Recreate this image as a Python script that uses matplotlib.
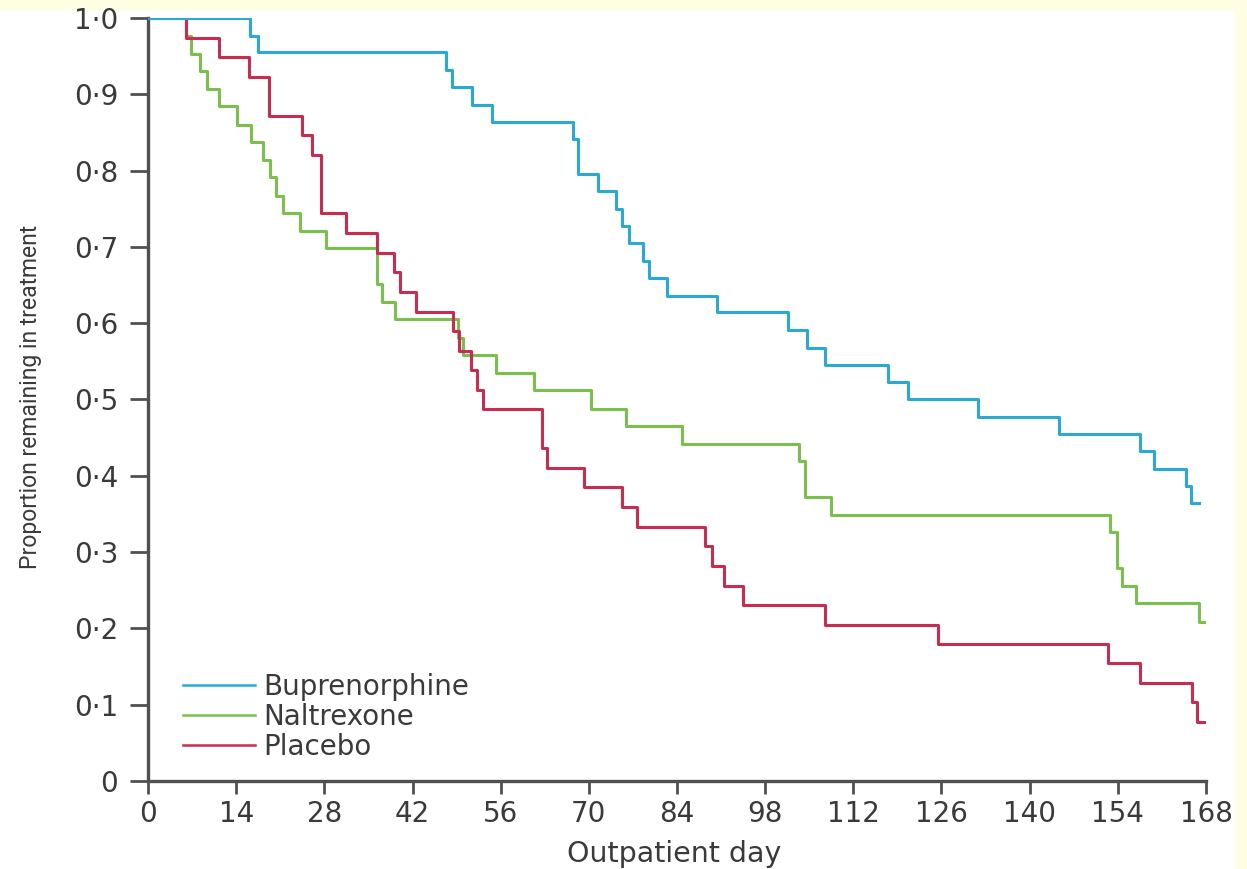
import matplotlib
matplotlib.use('Agg')
import matplotlib.pyplot as plt
from matplotlib.patches import Rectangle


### Dados

x_ticks = [0, 14, 28, 42, 56, 70, 84, 98, 112, 126, 140, 154, 168]
y_ticks = [0, 0.1, 0.2, 0.3, 0.4, 0.5, 0.6, 0.7, 0.8, 0.9, 1.0]
y_tick_labels = ['0', '0·1', '0·2', '0·3', '0·4', '0·5', '0·6', '0·7', '0·8', '0·9', '1·0']

bup_days = [0, 16.2, 17.5, 47.3, 48.3, 51.4, 54.6, 67.5, 68.3, 71.5,
            74.3, 75.2, 76.4, 78.6, 79.6, 82.4, 90.4, 101.7, 104.6, 107.5,
            117.5, 120.7, 131.8, 144.7, 157.6, 159.7, 164.8, 165.7, 166.9]
bup_vals = [1.0, 0.977, 0.955, 0.932, 0.909, 0.886, 0.864, 0.841, 0.795, 0.773,
            0.750, 0.727, 0.705, 0.682, 0.659, 0.636, 0.614, 0.591, 0.568, 0.545,
            0.523, 0.500, 0.477, 0.455, 0.432, 0.409, 0.386, 0.364, 0.364]

nal_days = [0, 6.1, 6.9, 8.3, 9.3, 11.3, 14.1, 16.3, 18.3, 19.3,
            20.3, 21.4, 24.1, 28.3, 36.3, 37.2, 39.2, 49.3, 50.0, 55.3,
            61.3, 70.4, 75.9, 84.8, 103.4, 104.3, 108.4, 152.8, 153.8, 154.7,
            156.9, 166.9, 167.7]
nal_vals = [1.0, 0.977, 0.953, 0.930, 0.907, 0.884, 0.860, 0.837, 0.814, 0.791,
            0.767, 0.744, 0.721, 0.698, 0.651, 0.628, 0.605, 0.581, 0.558, 0.535,
            0.512, 0.488, 0.465, 0.442, 0.419, 0.372, 0.349, 0.326, 0.279, 0.256,
            0.233, 0.209, 0.209]

pla_days = [0, 6.1, 11.3, 16.1, 19.2, 24.5, 26.1, 27.5, 31.5, 36.4,
            39.0, 40.0, 42.5, 48.5, 49.4, 51.3, 52.3, 53.2, 62.6, 63.3,
            69.3, 75.2, 77.6, 88.4, 89.5, 91.5, 94.5, 107.5, 125.5, 152.5,
            157.5, 165.8, 166.6, 168.0]
pla_vals = [1.0, 0.974, 0.949, 0.923, 0.872, 0.846, 0.821, 0.744, 0.718, 0.692,
            0.667, 0.641, 0.615, 0.590, 0.564, 0.538, 0.513, 0.487, 0.436, 0.410,
            0.385, 0.359, 0.333, 0.308, 0.282, 0.256, 0.231, 0.205, 0.179, 0.154,
            0.128, 0.103, 0.077, 0.077]

BLUE = '#2AA9D2'
GREEN = '#7BBF4C'
RED = '#C62D50'
AXIS = '#505050'
TEXT = '#3a3a3a'


### Figura

fig = plt.figure(figsize=(12.47, 8.69), dpi=100, facecolor='#FFFDE2')
fig.patches.append(Rectangle((0, 0), 1235 / 1247, 1 - 10 / 869,
                             transform=fig.transFigure, facecolor='white',
                             edgecolor='none', zorder=-10))

ax = fig.add_axes([0.1187, 0.1013, 0.8484, 0.8780])
ax.set_facecolor('none')

ax.step(nal_days, nal_vals, where='post', color=GREEN, lw=2.2, label='Naltrexone', zorder=3)
ax.step(pla_days, pla_vals, where='post', color=RED, lw=2.2, label='Placebo', zorder=4)
ax.step(bup_days, bup_vals, where='post', color=BLUE, lw=2.2, label='Buprenorphine', zorder=5)

ax.set_xlim(0, 168)
ax.set_ylim(0, 1.0)
ax.set_xticks(x_ticks)
ax.set_yticks(y_ticks)
ax.set_yticklabels(y_tick_labels)

for s in ['top', 'right']:
    ax.spines[s].set_visible(False)
for s in ['left', 'bottom']:
    ax.spines[s].set_color(AXIS)
    ax.spines[s].set_linewidth(2.4)

ax.tick_params(axis='both', colors=AXIS, width=2.0, labelcolor=TEXT,
               labelsize=20)
ax.tick_params(axis='y', length=13, pad=8.6)
ax.tick_params(axis='x', length=9, pad=5)
for lab in ax.get_xticklabels() + ax.get_yticklabels():
    lab.set_fontfamily('DejaVu Sans')

ax.set_xlabel('Outpatient day', fontsize=20.5, color=TEXT, family='DejaVu Sans')
ax.xaxis.set_label_coords(0.497, -0.078)
ax.set_ylabel('Proportion remaining in treatment', fontsize=16.5, color=TEXT,
              family=['Roboto', 'DejaVu Sans'])
ax.yaxis.set_label_coords(-0.100, 0.503)

handles, labels = ax.get_legend_handles_labels()
order = [2, 0, 1]
leg = ax.legend([handles[i] for i in order], [labels[i] for i in order],
                loc='upper left', bbox_to_anchor=(0.033, 0.1415),
                frameon=False, borderaxespad=0, borderpad=0,
                handlelength=2.6, handletextpad=0.29, labelspacing=0.07,
                prop={'family': 'DejaVu Sans', 'size': 20})
for t in leg.get_texts():
    t.set_color(TEXT)
for h in leg.get_lines():
    h.set_linewidth(1.8)

fig.savefig('out.png', dpi=100, facecolor=fig.get_facecolor())
